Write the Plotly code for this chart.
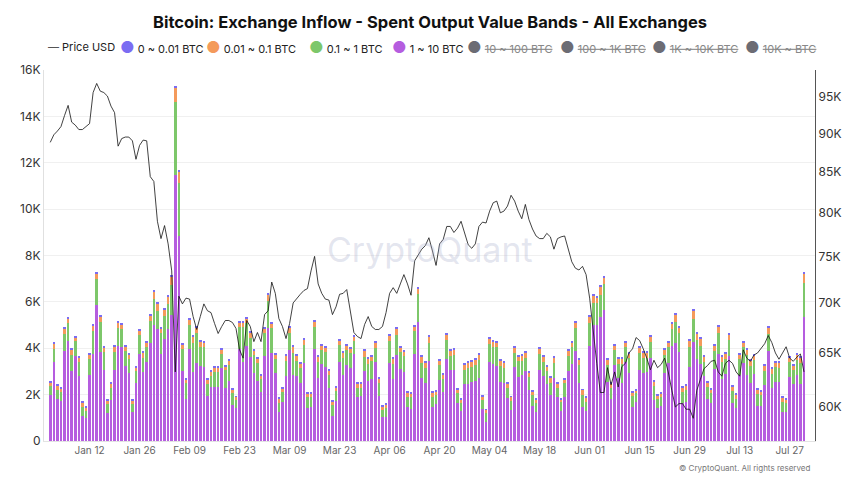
import pandas as pd
import plotly.graph_objects as go

# daily inflow per spent-output value band, in thousands
dates = pd.date_range("2025-01-01", "2025-07-31", freq="D")

band_1_10 = [
    1.98, 3.39, 1.81, 1.74, 3.90, 4.33, 3.03, 3.68, 2.82, 1.09,
    0.98, 2.83, 3.74, 5.87, 3.84, 3.06, 1.19, 1.77, 3.06, 4.10,
    4.04, 3.25, 2.95, 1.25, 2.52, 3.74, 2.98, 3.42, 4.24, 5.00,
    4.82, 3.75, 4.38, 4.83, 5.43, 11.47, 8.86, 3.03, 1.81, 3.95,
    2.99, 3.38, 3.23, 3.18, 1.94, 2.34, 2.34, 2.34, 3.13, 2.27,
    2.60, 1.55, 1.41, 3.95, 3.41, 4.10, 3.64, 2.92, 2.60, 2.13,
    3.68, 4.86, 3.81, 2.92, 1.27, 1.70, 2.80, 3.92, 2.85, 2.80,
    2.52, 3.38, 1.41, 1.48, 3.95, 2.70, 3.32, 3.18, 2.27, 1.09,
    1.74, 3.42, 2.85, 3.28, 3.13, 3.75, 1.91, 1.94, 3.03, 2.60,
    2.66, 3.42, 1.94, 1.02, 1.05, 3.38, 2.67, 3.71, 3.11, 2.99,
    1.48, 1.39, 3.75, 5.15, 2.73, 2.52, 3.46, 1.48, 1.60, 2.63,
    2.11, 3.52, 3.06, 3.06, 1.65, 1.31, 2.46, 2.46, 2.56, 2.60,
    2.70, 1.37, 0.83, 3.39, 3.31, 3.25, 2.56, 2.52, 1.87, 1.34,
    3.21, 2.77, 2.85, 3.03, 2.20, 1.52, 1.24, 3.06, 2.80, 2.44,
    1.98, 2.70, 1.88, 1.31, 1.91, 3.02, 3.32, 3.90, 2.52, 1.45,
    1.31, 4.11, 5.00, 4.99, 5.36, 5.65, 2.56, 1.83, 3.28, 2.70,
    2.52, 3.42, 2.92, 1.48, 1.70, 3.06, 2.95, 2.99, 3.57, 1.77,
    1.41, 1.52, 2.95, 3.35, 4.10, 4.21, 3.82, 1.62, 1.70, 3.21,
    4.26, 3.54, 3.32, 2.80, 1.81, 1.62, 3.11, 3.75, 2.66, 2.89,
    3.67, 1.65, 1.41, 2.85, 3.35, 2.85, 2.49, 2.89, 1.51, 1.51,
    2.42, 3.90, 2.27, 2.53, 2.53, 1.27, 1.27, 2.77, 2.46, 2.85,
    2.46, 5.36,
]
band_01_1 = [
    0.39, 0.59, 0.39, 0.39, 0.71, 0.77, 0.69, 0.63, 0.59, 0.39,
    0.33, 0.71, 1.00, 1.10, 1.28, 0.76, 0.41, 0.50, 0.79, 0.79,
    0.78, 0.63, 0.57, 0.35, 0.48, 0.82, 0.61, 0.65, 0.94, 1.14,
    0.80, 0.89, 1.01, 1.06, 1.31, 3.16, 2.25, 0.92, 0.68, 1.05,
    1.25, 1.26, 0.84, 0.86, 0.52, 0.46, 0.64, 0.62, 0.62, 0.79,
    0.68, 0.53, 0.36, 0.95, 1.49, 0.97, 0.82, 0.79, 0.75, 0.53,
    0.96, 1.19, 1.05, 0.62, 0.38, 0.41, 0.65, 0.75, 0.93, 0.65,
    0.61, 0.76, 0.47, 0.40, 0.98, 0.72, 0.60, 0.66, 0.58, 0.46,
    0.42, 0.72, 0.74, 0.64, 0.65, 0.56, 0.36, 0.33, 0.61, 0.72,
    0.79, 0.59, 0.55, 0.32, 0.39, 0.93, 0.64, 0.85, 0.74, 0.68,
    0.43, 0.49, 1.01, 1.18, 0.65, 0.61, 0.78, 0.40, 0.37, 0.65,
    0.55, 0.84, 0.61, 0.65, 0.41, 0.34, 0.60, 0.67, 0.65, 0.68,
    0.79, 0.40, 0.36, 0.78, 0.76, 0.79, 0.69, 0.61, 0.40, 0.40,
    0.57, 0.68, 0.60, 0.56, 0.55, 0.46, 0.38, 0.69, 0.62, 0.58,
    0.54, 0.68, 0.39, 0.36, 0.58, 0.65, 0.72, 0.96, 0.76, 0.53,
    0.39, 0.99, 0.94, 0.95, 0.94, 1.12, 0.72, 0.44, 0.64, 0.62,
    0.80, 0.62, 0.65, 0.46, 0.36, 0.75, 0.64, 0.60, 0.71, 0.60,
    0.39, 0.39, 0.76, 0.69, 0.72, 0.94, 0.82, 0.48, 0.50, 0.86,
    0.99, 0.82, 0.79, 0.61, 0.53, 0.44, 0.79, 0.92, 0.76, 0.63,
    0.69, 0.52, 0.42, 0.67, 0.69, 0.86, 0.76, 0.60, 0.50, 0.47,
    0.61, 0.70, 0.62, 0.65, 0.62, 0.43, 0.35, 0.64, 0.60, 0.64,
    0.92, 1.44,
]
band_001_01 = [
    0.17, 0.24, 0.18, 0.14, 0.26, 0.20, 0.21, 0.17, 0.18, 0.18,
    0.13, 0.19, 0.23, 0.27, 0.25, 0.20, 0.16, 0.20, 0.21, 0.20,
    0.22, 0.21, 0.21, 0.13, 0.18, 0.22, 0.24, 0.19, 0.22, 0.31,
    0.31, 0.23, 0.27, 0.35, 0.37, 0.60, 0.50, 0.21, 0.16, 0.24,
    0.27, 0.27, 0.24, 0.19, 0.19, 0.18, 0.18, 0.20, 0.20, 0.17,
    0.21, 0.15, 0.13, 0.23, 0.23, 0.20, 0.21, 0.19, 0.19, 0.18,
    0.23, 0.26, 0.20, 0.19, 0.19, 0.15, 0.24, 0.24, 0.28, 0.22,
    0.21, 0.22, 0.16, 0.16, 0.23, 0.24, 0.20, 0.21, 0.19, 0.15,
    0.16, 0.19, 0.21, 0.21, 0.21, 0.20, 0.20, 0.20, 0.26, 0.22,
    0.19, 0.25, 0.21, 0.16, 0.14, 0.23, 0.23, 0.27, 0.20, 0.20,
    0.18, 0.16, 0.18, 0.24, 0.25, 0.26, 0.27, 0.21, 0.16, 0.19,
    0.21, 0.23, 0.23, 0.22, 0.16, 0.14, 0.24, 0.24, 0.23, 0.24,
    0.24, 0.17, 0.15, 0.25, 0.24, 0.22, 0.24, 0.27, 0.20, 0.16,
    0.24, 0.21, 0.24, 0.24, 0.19, 0.17, 0.17, 0.23, 0.22, 0.21,
    0.20, 0.24, 0.20, 0.14, 0.16, 0.23, 0.22, 0.23, 0.22, 0.22,
    0.17, 0.26, 0.34, 0.27, 0.37, 0.29, 0.24, 0.20, 0.21, 0.22,
    0.22, 0.22, 0.22, 0.17, 0.13, 0.24, 0.24, 0.24, 0.24, 0.21,
    0.17, 0.15, 0.22, 0.22, 0.24, 0.30, 0.27, 0.19, 0.19, 0.26,
    0.37, 0.26, 0.30, 0.22, 0.17, 0.16, 0.23, 0.27, 0.24, 0.24,
    0.23, 0.20, 0.16, 0.21, 0.22, 0.22, 0.22, 0.21, 0.21, 0.17,
    0.23, 0.30, 0.22, 0.22, 0.24, 0.17, 0.17, 0.21, 0.21, 0.24,
    0.21, 0.43,
]
band_0_001 = [
    0.05, 0.05, 0.05, 0.04, 0.06, 0.06, 0.05, 0.05, 0.05, 0.04,
    0.04, 0.05, 0.06, 0.06, 0.06, 0.05, 0.04, 0.05, 0.05, 0.06,
    0.06, 0.05, 0.05, 0.04, 0.05, 0.06, 0.05, 0.05, 0.06, 0.06,
    0.06, 0.06, 0.06, 0.06, 0.06, 0.09, 0.08, 0.05, 0.05, 0.06,
    0.06, 0.06, 0.05, 0.05, 0.05, 0.05, 0.05, 0.05, 0.05, 0.05,
    0.05, 0.04, 0.04, 0.06, 0.06, 0.06, 0.05, 0.05, 0.05, 0.05,
    0.06, 0.06, 0.06, 0.05, 0.04, 0.05, 0.05, 0.06, 0.05, 0.05,
    0.05, 0.05, 0.04, 0.04, 0.06, 0.05, 0.05, 0.05, 0.05, 0.04,
    0.05, 0.05, 0.05, 0.05, 0.05, 0.05, 0.05, 0.05, 0.05, 0.05,
    0.05, 0.05, 0.05, 0.04, 0.04, 0.05, 0.05, 0.06, 0.05, 0.05,
    0.04, 0.04, 0.06, 0.06, 0.05, 0.05, 0.05, 0.04, 0.04, 0.05,
    0.05, 0.05, 0.05, 0.05, 0.05, 0.04, 0.05, 0.05, 0.05, 0.05,
    0.05, 0.04, 0.04, 0.05, 0.05, 0.05, 0.05, 0.05, 0.05, 0.04,
    0.05, 0.05, 0.05, 0.05, 0.05, 0.05, 0.04, 0.05, 0.05, 0.05,
    0.05, 0.05, 0.05, 0.04, 0.05, 0.05, 0.05, 0.06, 0.05, 0.04,
    0.04, 0.06, 0.06, 0.06, 0.06, 0.06, 0.05, 0.05, 0.05, 0.05,
    0.05, 0.05, 0.05, 0.05, 0.05, 0.05, 0.05, 0.05, 0.05, 0.05,
    0.04, 0.04, 0.05, 0.05, 0.06, 0.06, 0.06, 0.05, 0.05, 0.05,
    0.06, 0.05, 0.05, 0.05, 0.05, 0.05, 0.05, 0.06, 0.05, 0.05,
    0.05, 0.05, 0.04, 0.05, 0.05, 0.05, 0.05, 0.05, 0.05, 0.05,
    0.05, 0.06, 0.05, 0.05, 0.05, 0.04, 0.04, 0.05, 0.05, 0.05,
    0.05, 0.07,
]
# price, thousands of USD
price_usd_k = [
    88.8, 89.8, 90.3, 90.9, 92.4, 93.8, 91.5, 91.1, 90.5, 90.5,
    90.9, 91.3, 95.6, 96.9, 95.8, 95.6, 95.1, 93.7, 92.8, 88.3,
    89.3, 89.5, 89.5, 89.0, 86.6, 88.4, 89.1, 89.0, 84.4, 83.8,
    79.0, 77.0, 78.5, 76.4, 73.4, 63.2, 70.7, 69.9, 70.5, 70.4,
    68.6, 67.3, 68.6, 69.9, 69.2, 69.0, 67.9, 66.9, 67.6, 68.2,
    68.2, 68.0, 67.4, 65.3, 64.5, 68.2, 67.6, 66.1, 67.0, 66.1,
    68.8, 69.2, 72.2, 71.0, 68.4, 67.6, 66.4, 67.9, 70.0, 70.5,
    70.9, 71.3, 71.5, 73.4, 75.0, 72.0, 71.0, 70.4, 70.3, 68.8,
    69.6, 70.9, 71.0, 71.4, 69.2, 67.0, 66.6, 66.4, 67.8, 68.6,
    67.6, 67.3, 67.3, 67.6, 69.0, 71.0, 71.6, 71.0, 72.0, 73.0,
    72.0, 70.8, 74.5, 75.2, 75.8, 76.2, 77.1, 75.6, 74.0, 76.4,
    76.9, 78.4, 78.4, 77.7, 78.2, 79.0, 77.5, 76.3, 75.9, 76.4,
    78.4, 78.9, 78.8, 80.2, 81.2, 81.4, 80.0, 80.2, 80.8, 82.1,
    81.4, 80.2, 79.3, 81.0, 79.2, 78.1, 77.3, 77.0, 77.0, 77.6,
    77.2, 75.8, 77.0, 77.2, 77.3, 75.9, 74.4, 73.7, 73.5, 73.9,
    73.0, 70.5, 67.0, 64.0, 61.3, 61.3, 63.6, 62.0, 63.2, 61.8,
    63.7, 64.0, 65.0, 65.4, 66.5, 66.2, 65.4, 64.5, 63.4, 64.3,
    63.6, 63.9, 64.5, 63.2, 61.5, 60.0, 60.3, 60.3, 59.8, 59.8,
    59.0, 61.5, 62.5, 63.5, 63.8, 64.2, 64.3, 63.2, 62.8, 64.0,
    64.3, 64.0, 63.2, 62.8, 65.3, 64.5, 64.2, 64.8, 65.0, 65.4,
    65.9, 66.7, 66.0, 65.0, 64.4, 65.0, 65.6, 64.5, 64.2, 64.6,
    64.9, 63.2,
]

left_ticks = [0, 2, 4, 6, 8, 10, 12, 14, 16]
left_labels = ["0", "2K", "4K", "6K", "8K", "10K", "12K", "14K", "16K"]
right_ticks = [60, 65, 70, 75, 80, 85, 90, 95]
right_labels = ["60K", "65K", "70K", "75K", "80K", "85K", "90K", "95K"]

PURPLE = "#b55ddf"
GREEN = "#7dc76a"
ORANGE = "#f49a5b"
BLUE = "#7b6cf2"
GREY = "#6c6c74"
FONT = "Inter"

# page puts the figure 8px in from the top-left, so the figure is 8px smaller
W, H = 852, 476

fig = go.Figure()
for vals, name, col in [
    (band_1_10, "1 ~ 10 BTC", PURPLE),
    (band_01_1, "0.1 ~ 1 BTC", GREEN),
    (band_001_01, "0.01 ~ 0.1 BTC", ORANGE),
    (band_0_001, "0 ~ 0.01 BTC", BLUE),
]:
    fig.add_trace(go.Bar(x=dates, y=vals, name=name, marker_color=col,
                         marker_line_width=0, showlegend=False))

fig.add_trace(go.Scatter(x=dates, y=price_usd_k, name="Price USD", yaxis="y2",
                         mode="lines", line=dict(color="#111111", width=0.8),
                         showlegend=False))

fig.update_layout(
    width=W, height=H,
    margin=dict(l=36, r=45, t=62, b=43),
    paper_bgcolor="white", plot_bgcolor="white",
    barmode="stack", bargap=0.28,
    font=dict(family=FONT, color="#333333", size=12),
    title=dict(text="<b>Bitcoin: Exchange Inflow - Spent Output Value Bands - All Exchanges</b>",
               x=0.5 - 4 / W, xanchor="center", y=1 - 14 / H, yanchor="middle",
               font=dict(family=FONT, size=16.5, color="#111111")),
    xaxis=dict(type="date", range=["2024-12-30 06:00", "2025-08-03 02:00"],
               tick0="2025-01-12", dtick=14 * 86400000, tickformat="%b %d",
               showgrid=False, showline=True, linecolor="#e3e3e3", linewidth=1,
               ticks="", tickfont=dict(size=10, color="#666666")),
    yaxis=dict(range=[0, 16], tickvals=left_ticks, ticktext=left_labels,
               showgrid=True, gridcolor="#f0f0f0", gridwidth=1, zeroline=False,
               showline=True, linecolor="#e0e0e0", linewidth=1, ticks="",
               tickfont=dict(size=12, color="#333333")),
    yaxis2=dict(type="log", overlaying="y", side="right",
                range=[1.75626, 1.99497], tickvals=right_ticks, ticktext=right_labels,
                showgrid=False, zeroline=False, showline=True, linecolor="#555555",
                linewidth=1.2, ticks="", tickfont=dict(size=12, color="#333333")),
)

# watermark and footer
fig.add_annotation(text="CryptoQuant", xref="paper", yref="paper", x=0.5006, y=0.515,
                   showarrow=False, font=dict(family=FONT, size=34, color="rgba(170,175,205,0.33)"))
fig.add_annotation(text="© CryptoQuant. All rights reserved", xref="paper", yref="paper",
                   x=0.996, y=-0.073, xanchor="right", yanchor="middle", showarrow=False,
                   font=dict(family=FONT, size=8, color="#777777"))

# legend row drawn as text (circle markers, struck-through hidden bands)
def px_x(px):
    return (px - 44) / 771.0

legend_y = (441 - 47) / 371.0
fig.add_annotation(text="<span style='color:#555555'>—</span> Price USD", xref="paper", yref="paper",
                   x=px_x(46), y=legend_y, xanchor="left", yanchor="middle", showarrow=False,
                   font=dict(family=FONT, size=11, color="#222222"))
legend_items = [
    ("0 ~ 0.01 BTC", BLUE, False, 118),
    ("0.01 ~ 0.1 BTC", ORANGE, False, 204),
    ("0.1 ~ 1 BTC", GREEN, False, 307),
    ("1 ~ 10 BTC", PURPLE, False, 390),
    ("10 ~ 100 BTC", GREY, True, 465),
    ("100 ~ 1K BTC", GREY, True, 558),
    ("1K ~ 10K BTC", GREY, True, 650),
    ("10K ~ BTC", GREY, True, 743),
]
for label, col, struck, left in legend_items:
    txt = f"<s>{label}</s>" if struck else label
    fig.add_annotation(
        text=f"<span style='color:{col};font-size:16px'>●</span> {txt}",
        xref="paper", yref="paper", x=px_x(left), y=legend_y,
        xanchor="left", yanchor="middle", showarrow=False,
        font=dict(family=FONT, size=11, color="#888888" if struck else "#222222"))

fig.write_html("out.html")
